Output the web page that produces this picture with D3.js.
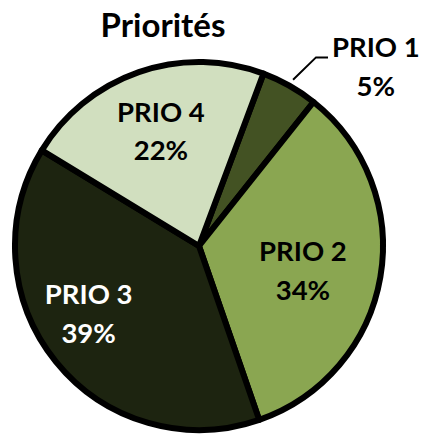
<!DOCTYPE html>
<html>
<head>
<meta charset="utf-8">
<script src="https://cdn.jsdelivr.net/npm/d3@7"></script>
<style>
    html, body { margin: 0; padding: 0; background: #fff; }
    #chart { width: 424px; height: 434px; }
    text { font-family: Lato, "Open Sans", sans-serif; font-weight: 700; }
</style>
</head>
<body>
<div id="chart"></div>
<script>
//Datos
const categorias = ['PRIO 1', 'PRIO 2', 'PRIO 3', 'PRIO 4'];
const valores = [5, 34, 39, 22];
const etiquetas = ['5%', '34%', '39%', '22%'];

//Colores fijos
const COLORES = ['#435223', '#8aa651', '#1d2410', '#d1dfbf'];
const TEXTO = ['#000', '#000', '#fff', '#000'];

let width = 424, height = 434;
let cx = 199, cy = 246, radius = 184;

let svg = d3.select('#chart')
    .append('svg')
        .attr('width', width)
        .attr('height', height);

//Título
svg.append('text')
    .attr('x', 163)
    .attr('y', 37)
    .attr('text-anchor', 'middle')
    .style('font-size', '33px')
    .text('Priorités');

let data = categorias.map(function(c, i) { return { cat: c, value: valores[i], label: etiquetas[i], i: i }; });

let startDeg = 20.5;
let pie = d3.pie()
    .sort(null)
    .value(function(d) { return d.value; })
    .startAngle(startDeg * Math.PI / 180)
    .endAngle((startDeg + 360) * Math.PI / 180);

let arc = d3.arc().innerRadius(0).outerRadius(radius);

let g = svg.append('g')
    .attr('transform', 'translate(' + cx + ',' + cy + ')');

let arcs = pie(data);

g.selectAll('path')
    .data(arcs)
    .enter()
    .append('path')
    .attr('d', arc)
    .attr('fill', function(d) { return COLORES[d.data.i]; })
    .attr('stroke', '#000')
    .attr('stroke-width', 6)
    .attr('stroke-linejoin', 'round');

//Posición de etiquetas (ajuste tipo "best fit" de Excel): giro en grados y radio
let ajuste = [
    { dAng: 15.3, r: 251 },
    { dAng: 4.1, r: 107 },
    { dAng: 7, r: 130 },
    { dAng: 0.6, r: 120 }
];

function polar(ang, r) {
    return [Math.sin(ang) * r, -Math.cos(ang) * r];
}

let lineGap = 38.5;

arcs.forEach(function(d) {
    let a = ajuste[d.data.i];
    let mid = (d.startAngle + d.endAngle) / 2;
    let p = polar(mid + a.dAng * Math.PI / 180, a.r);
    let b1 = p[1] - 10.5;

    let t = g.append('text')
        .attr('text-anchor', 'middle')
        .attr('fill', TEXTO[d.data.i])
        .style('font-size', '27.5px');
    t.append('tspan').attr('x', p[0]).attr('y', b1).text(d.data.cat);
    t.append('tspan').attr('x', p[0]).attr('y', b1 + lineGap).text(d.data.label);

    //Línea guía para la etiqueta exterior
    if (a.r > radius) {
        let box = t.node().getBBox();
        let start = polar(mid, radius + 7);
        let end = [box.x - 4, b1];
        let elbow = [end[0] - 12, b1];
        g.append('polyline')
            .attr('points', [start, elbow, end].map(function(q) { return q.join(','); }).join(' '))
            .attr('fill', 'none')
            .attr('stroke', '#000')
            .attr('stroke-width', 2);
    }
});
</script>
</body>
</html>
